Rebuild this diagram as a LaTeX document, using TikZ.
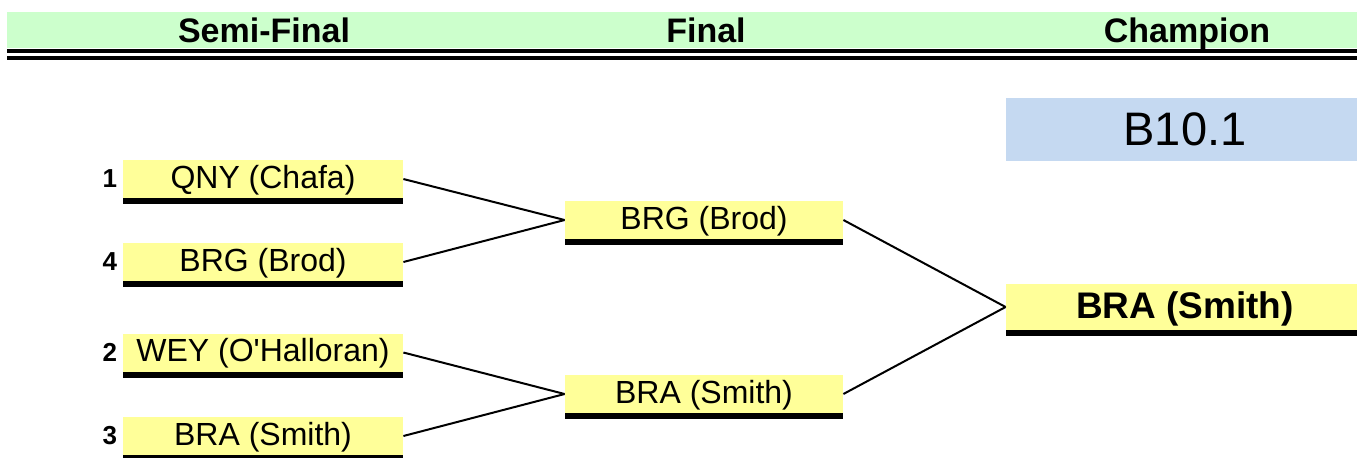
\documentclass[tikz,border=0pt]{standalone}
\usepackage{fontspec}
\setmainfont{Liberation Sans}
\usetikzlibrary{positioning}
\definecolor{headgreen}{HTML}{CCFFCC}
\definecolor{teamyellow}{HTML}{FFFF99}
\definecolor{titleblue}{HTML}{C5D9F1}

\begin{document}
\begin{tikzpicture}[x=0.5pt,y=-0.5pt,
		team/.style={fill=teamyellow,inner sep=0pt,minimum width=140pt,minimum height=19pt,text height=12.6pt,text depth=3.6pt,font=\fontsize{16}{18}\selectfont},
		seed/.style={inner sep=0pt,font=\bfseries\fontsize{13}{15}\selectfont},
		head/.style={anchor=base,font=\bfseries\fontsize{17}{20}\selectfont}]
		\useasboundingbox (0,0) rectangle (1357,457);
		%header
		\fill[headgreen] (7,12) rectangle (1357,48);
		\fill (7,49) rectangle (1357,53);
		\fill (7,56) rectangle (1357,60);
		\node[head] (hsemi) at (264,42) {Semi-Final};
		\node[head] (hfinal) at (706,42) {Final};
		\node[head] (hchamp) at (1187,42) {Champion};
		
		%semi-final
		\node[team] (s1) at (263,179) {QNY (Chafa)};
		\node[team] (s4) at (263,262) {BRG (Brod)};
		\node[team] (s2) at (263,352.5) {WEY (O\textquotesingle Halloran)};
		\node[team] (s3) at (263,436) {BRA (Smith)};
		\node[seed,left=2.5pt of s1] (n1) {1};
		\node[seed,left=2.5pt of s4] (n4) {4};
		\node[seed,left=2.5pt of s2] (n2) {2};
		\node[seed,left=2.5pt of s3] (n3) {3};
		
		%final
		\node[team,minimum width=139pt] (f1) at (704,220) {BRG (Brod)};
		\node[team,minimum width=139pt] (f2) at (704,394) {BRA (Smith)};
		
		%champion
		\node[team,minimum width=179pt,minimum height=23pt,text height=14.5pt,text depth=3.5pt,font=\bfseries\fontsize{18.5}{22}\selectfont] (champ) at (1185,307) {BRA (Smith)};
		\node[fill=titleblue,minimum width=179pt,minimum height=31.5pt,font=\fontsize{23.5}{28}\selectfont] (event) at (1185,129.5) {B10.1};
		
		%bars under the boxes
		\foreach \n in {s1,s4,s2,s3,f1,f2,champ}{
			\fill (\n.south west) rectangle ([yshift=-3pt]\n.south east);
		}
		
		%lines:
		\draw[line width=1pt] (s1.east) -- (f1.west);
		\draw[line width=1pt] (s4.east) -- (f1.west);
		\draw[line width=1pt] (s2.east) -- (f2.west);
		\draw[line width=1pt] (s3.east) -- (f2.west);
		\draw[line width=1pt] (f1.east) -- (champ.west);
		\draw[line width=1pt] (f2.east) -- (champ.west);
		
\end{tikzpicture}
\end{document}
